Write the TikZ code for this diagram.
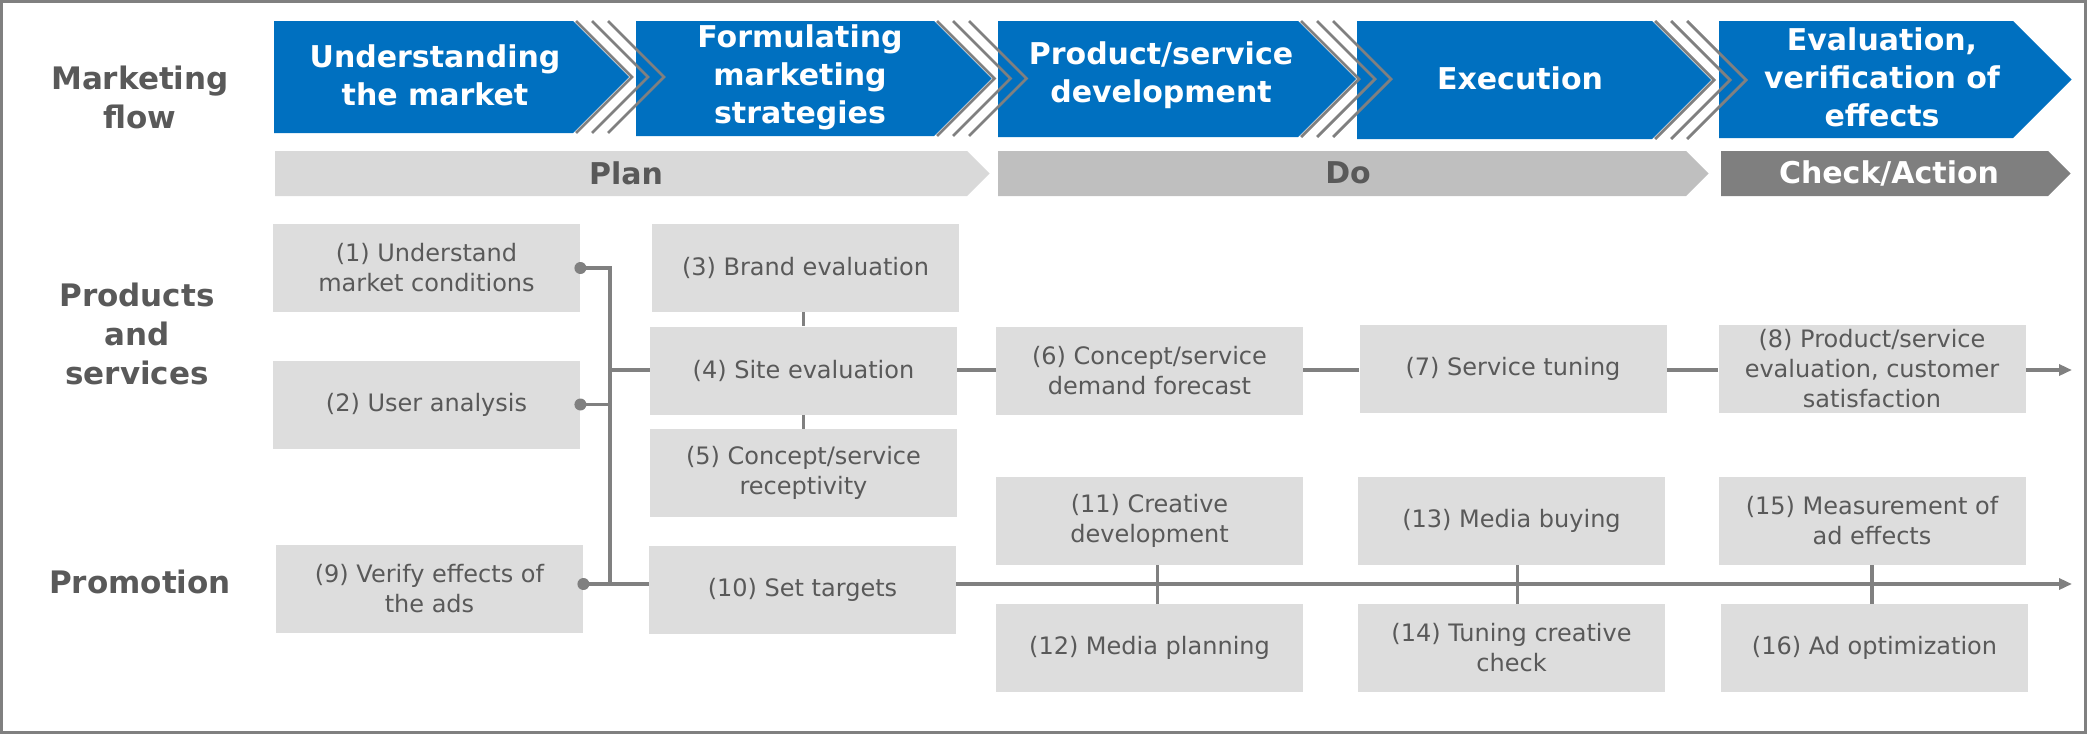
\documentclass[tikz,border=0pt]{standalone}
\usepackage{fontspec}
\setmainfont{DejaVu Sans}
\usetikzlibrary{arrows.meta,calc}
\definecolor{mblue}{HTML}{0070C0}
\definecolor{lgray}{HTML}{D9D9D9}
\definecolor{mgray}{HTML}{BFBFBF}
\definecolor{dgray}{HTML}{7F7F7F}
\definecolor{bgray}{HTML}{DDDDDD}
\definecolor{tgray}{HTML}{595959}
\definecolor{lcol}{HTML}{808080}
\newcommand\bluechev[4]{%
  \fill[mblue] (#1,#3) -- (#2,#3) -- ({#2+(#4-#3)/2},{(#3+#4)/2}) -- (#2,#4) -- (#1,#4) -- cycle;}
\newcommand\graychev[3]{%
  \foreach \o in {3,19,35} {\draw[chev] ({#1+\o},#2) -- ({#1+\o+(#3-#2)/2},{(#2+#3)/2}) -- ({#1+\o},#3);}}
\newcommand\barshape[3]{%
  \fill[#3] (#1,151) -- (#2,151) -- ({#2+22.5},173.5) -- (#2,196) -- (#1,196) -- cycle;}
\begin{document}
\begin{tikzpicture}[x=0.5pt,y=-0.5pt,
  head/.style={font=\fontsize{15.5pt}{19.5pt}\selectfont\bfseries, text=tgray, align=center, inner sep=0pt},
  btext/.style={font=\fontsize{15pt}{19pt}\selectfont\bfseries, text=white, align=center, inner sep=0pt},
  bartext/.style={font=\fontsize{15pt}{18pt}\selectfont\bfseries, inner sep=0pt},
  gbox/.style={fill=bgray, text=tgray, font=\fontsize{12pt}{15pt}\selectfont, align=center, inner sep=0pt, minimum width=153.5pt, minimum height=44pt},
  conn/.style={draw=lcol, line width=1.7pt},
  chev/.style={draw=lcol, line width=1.4pt},
  dotc/.style={fill=lcol},
  tip/.style={-{Triangle[length=6.5pt,width=5.5pt]}},
]
\useasboundingbox (0,0) rectangle (2087,734);
\draw[lcol, line width=1.5pt] (1.5,1.5) rectangle (2085.5,732.5);

% blue flow chevrons
\bluechev{274}{573}{21}{133}
\bluechev{636}{934}{21}{136}
\bluechev{998}{1298}{21}{137}
\bluechev{1357}{1652}{21}{139}
\bluechev{1719}{2013}{21}{138}
\graychev{573}{21}{133}
\graychev{934}{21}{136}
\graychev{1298}{21}{137}
\graychev{1652}{21}{139}

% phase bars
\barshape{275}{967}{lgray}
\barshape{998}{1686}{mgray}
\barshape{1721}{2048}{dgray}

% headings
\node[head] (hflow) at (140,97) {Marketing\\flow};
\node[head] (hprod) at (137,334) {Products\\and\\services};
\node[head] (hpromo) at (140,582) {Promotion};

% flow texts
\node[btext] (t1) at (435,75) {Understanding\\the market};
\node[btext] (t2) at (800,77) {Formulating\\marketing\\strategies};
\node[btext] (t3) at (1161,75) {Product/service\\development};
\node[btext] (t4) at (1520,78) {Execution};
\node[btext] (t5) at (1882,77) {Evaluation,\\verification of\\effects};

\node[bartext, text=tgray] (tplan) at (626,173) {Plan};
\node[bartext, text=tgray] (tdo) at (1348,173) {Do};
\node[bartext, text=white] (tca) at (1889,173) {Check/Action};

% boxes
\node[gbox] (b1) at (426.5,268) {(1) Understand\\market conditions};
\node[gbox] (b2) at (426.5,404.5) {(2) User analysis};
\node[gbox] (b3) at (805.5,268) {(3) Brand evaluation};
\node[gbox] (b4) at (803.5,370.5) {(4) Site evaluation};
\node[gbox] (b5) at (803.5,473) {(5) Concept/service\\receptivity};
\node[gbox] (b6) at (1149.5,370.5) {(6) Concept/service\\demand forecast};
\node[gbox] (b7) at (1513,369) {(7) Service tuning};
\node[gbox] (b8) at (1872,369) {(8) Product/service\\evaluation, customer\\satisfaction};
\node[gbox] (b9) at (429.5,589) {(9) Verify effects of\\the ads};
\node[gbox] (b10) at (802.5,589.5) {(10) Set targets};
\node[gbox] (b11) at (1149.5,521) {(11) Creative\\development};
\node[gbox] (b12) at (1149.5,648) {(12) Media planning};
\node[gbox] (b13) at (1511.5,521) {(13) Media buying};
\node[gbox] (b14) at (1511.5,648) {(14) Tuning creative\\check};
\node[gbox] (b15) at (1872,521) {(15) Measurement of\\ad effects};
\node[gbox] (b16) at (1874.5,648) {(16) Ad optimization};

% connectors
\coordinate (bus) at (610,370);
\coordinate (ql) at (610,584);
\coordinate (end1) at (2072,370);
\coordinate (end2) at (2072,584);
\draw[conn] (b1.east) -| (ql) -- (b10.west |- ql);
\draw[conn] (b2.east) -- (bus |- b2.east);
\draw[conn] (bus) -- (b4.west |- bus);
\draw[conn] (b9.east |- ql) -- (ql);
\draw[conn] (b3.south -| b4.north) -- (b4.north);
\draw[conn] (b4.south) -- (b5.north);
\draw[conn] (b4.east |- bus) -- (b6.west |- bus);
\draw[conn] (b6.east |- bus) -- (b7.west |- bus);
\draw[conn] (b7.east |- bus) -- (b8.west |- bus);
\draw[conn, tip] (b8.east |- bus) -- (end1);
\draw[conn, tip] (b10.east |- ql) -- (end2);
\draw[conn] ([xshift=4pt]b11.south) -- ([xshift=4pt]b12.north);
\draw[conn] ([xshift=3pt]b13.south) -- ([xshift=3pt]b14.north);
\draw[conn] (b15.south) -- (b15.south |- b16.north);
\fill[dotc] (b1.east) circle[radius=3pt];
\fill[dotc] (b2.east) circle[radius=3pt];
\fill[dotc] (b9.east |- ql) circle[radius=3pt];
\end{tikzpicture}
\end{document}
